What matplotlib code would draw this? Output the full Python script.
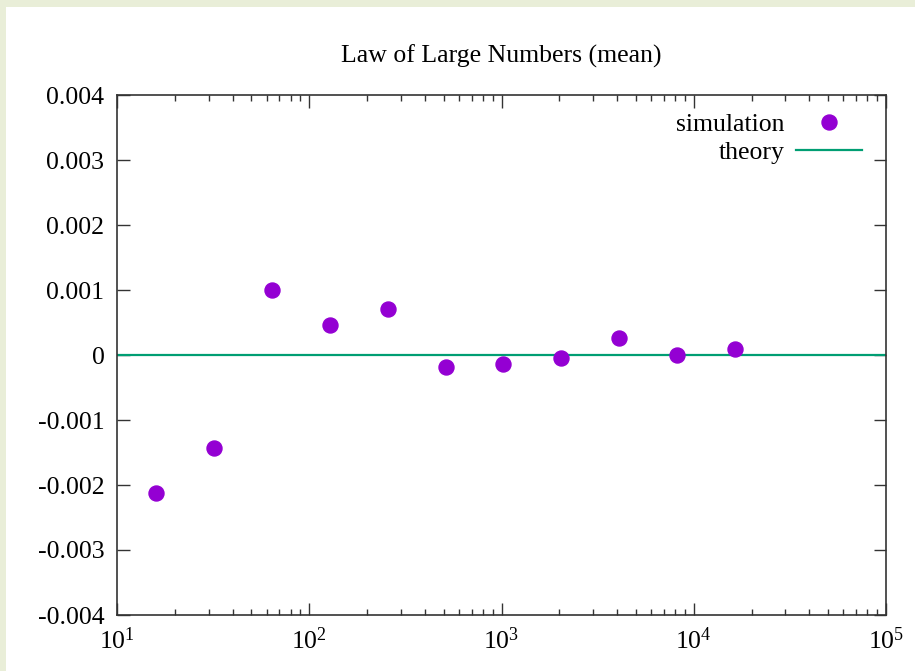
"""
    Law of large numbers: sample mean against number of draws, gnuplot look
"""

import numpy as np
import matplotlib
matplotlib.use("Agg")
from matplotlib import pyplot as plt
from matplotlib import ticker
from matplotlib.patches import Rectangle

# sample sizes 2^4 .. 2^14 and the measured means
n_draws = [16, 32, 64, 128, 256, 512, 1024, 2048, 4096, 8192, 16384]
sim_mean = [-2.13e-3, -1.43e-3, 1.0e-3, 0.457e-3, 0.71e-3, -0.19e-3,
            -0.14e-3, -0.05e-3, 0.266e-3, 0.0, 0.09e-3]
theory_x = [10, 1e5]
theory_y = [0.0, 0.0]

y_ticks = [-0.004, -0.003, -0.002, -0.001, 0, 0.001, 0.002, 0.003, 0.004]
x_ticks = [1e1, 1e2, 1e3, 1e4, 1e5]

plt.rcParams['font.family'] = ['Liberation Serif', 'DejaVu Serif']
plt.rcParams['mathtext.fontset'] = 'custom'
plt.rcParams['mathtext.rm'] = 'Liberation Serif'
plt.rcParams['mathtext.it'] = 'Liberation Serif:italic'
plt.rcParams['axes.unicode_minus'] = False

fsize = 18.5

fig = plt.figure(figsize=(9.15, 6.71), dpi=100, facecolor='#e9eed8')
# white slide panel
fig.patches.append(Rectangle((6 / 915, 0), 1, 1 - 7 / 671,
                             transform=fig.transFigure, facecolor='white',
                             edgecolor='none', zorder=-10))

ax = fig.add_axes([117 / 915, 1 - 615 / 671, 769 / 915, 520 / 671])
ax.set_xscale('log')
ax.set_xlim(10, 1e5)
ax.set_ylim(-0.004, 0.004)

ax.plot(n_draws, sim_mean, 'o', color='#9400d3', markersize=10.8,
        label='simulation', zorder=3)
ax.plot(theory_x, theory_y, '-', color='#009e73', linewidth=1.6,
        label='theory', zorder=2)

ax.set_yticks(y_ticks)
ax.yaxis.set_major_formatter(ticker.FuncFormatter(
    lambda v, p: '0' if abs(v) < 1e-12 else '%.3f' % v))
ax.set_xticks(x_ticks)
ax.xaxis.set_major_formatter(ticker.FuncFormatter(
    lambda v, p: r'$\mathregular{10^{%d}}$' % round(np.log10(v))))
ax.xaxis.set_minor_locator(ticker.LogLocator(base=10, subs=np.arange(2, 10)))
ax.xaxis.set_minor_formatter(ticker.NullFormatter())

ax.tick_params(which='both', direction='in', top=True, right=True,
               colors='#333333', labelcolor='black', labelsize=fsize)
ax.tick_params(which='major', length=9, width=1)
ax.tick_params(which='minor', length=4.5, width=1)
ax.tick_params(axis='y', pad=9)
ax.tick_params(axis='x', pad=9)
for sp in ax.spines.values():
    sp.set_color('#333333')
    sp.set_linewidth(1.2)

ax.set_title('Law of Large Numbers (mean)', fontsize=fsize, pad=23)

leg = ax.legend(loc='upper right', markerfirst=False, frameon=False,
                fontsize=fsize, numpoints=1, handlelength=2.55,
                handletextpad=0.45, labelspacing=0.2, borderpad=0,
                borderaxespad=0, bbox_to_anchor=(1 - 24 / 769, 1 - 18 / 520))

fig.savefig('out.png', dpi=100, facecolor=fig.get_facecolor())
